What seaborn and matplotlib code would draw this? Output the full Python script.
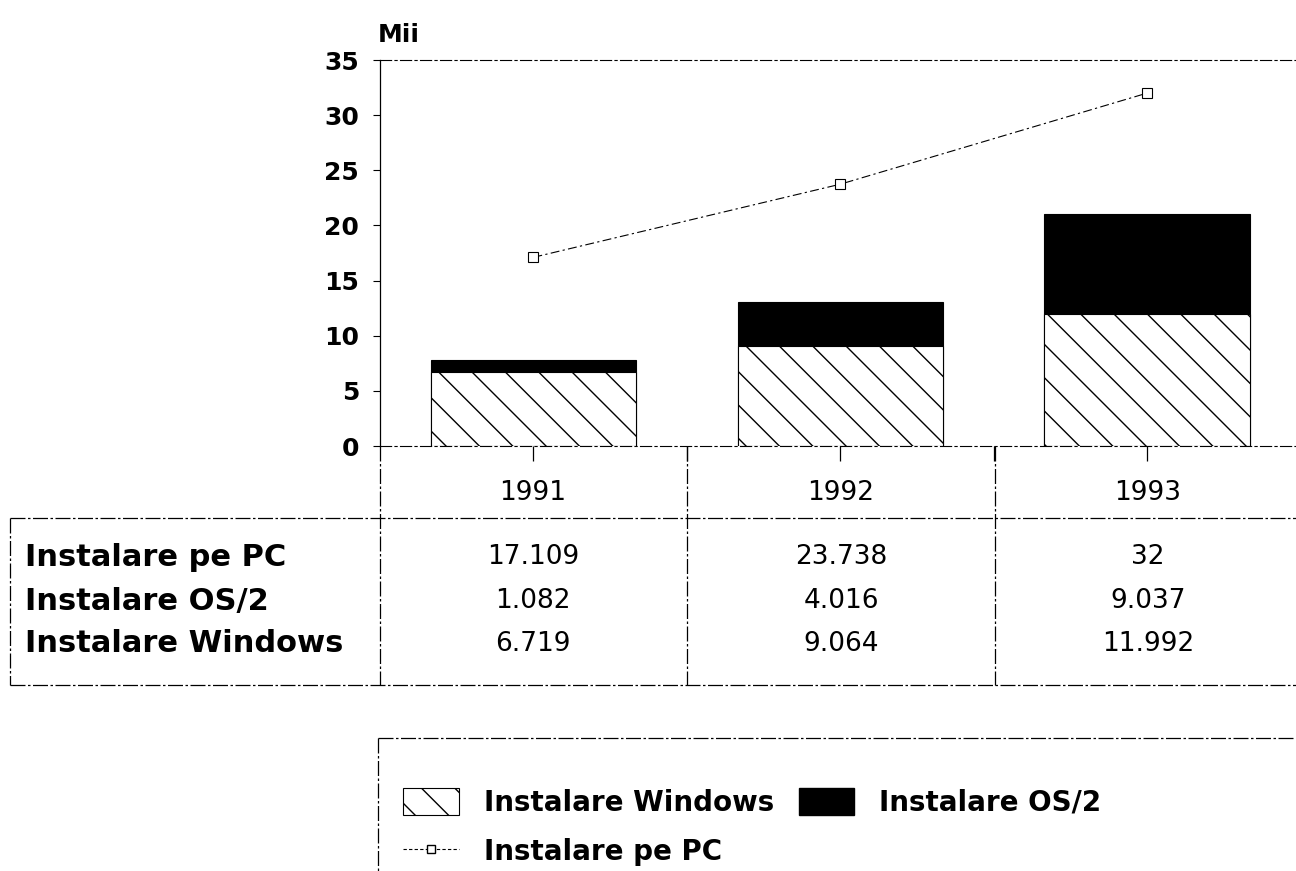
import matplotlib
matplotlib.use("Agg")
import matplotlib.pyplot as plt
from matplotlib.lines import Line2D
from matplotlib.patches import Patch
import numpy as np
import pandas as pd
import seaborn as sns

years = ["1991", "1992", "1993"]
pc = [17.109, 23.738, 32]
os2 = [1.082, 4.016, 9.037]
windows = [6.719, 9.064, 11.992]
pc_labels = ["17.109", "23.738", "32"]
os2_labels = ["1.082", "4.016", "9.037"]
win_labels = ["6.719", "9.064", "11.992"]
row_names = ["Instalare pe PC", "Instalare OS/2", "Instalare Windows"]

df = pd.DataFrame({"year": years, "pc": pc, "os2": os2, "windows": windows})
df["total"] = df["os2"] + df["windows"]

sns.set_theme(style="white")
plt.rcParams["font.family"] = ["DejaVu Sans"]
plt.rcParams["hatch.linewidth"] = 1.0
plt.rcParams["text.color"] = "black"
plt.rcParams["xtick.color"] = "black"
plt.rcParams["ytick.color"] = "black"

W, H = 1296, 871
fig = plt.figure(figsize=(12.96, 8.71), dpi=100)

# axes: x 380..1296 px, y 0 at 446 px, 35 at 60 px
ax = fig.add_axes([380 / W, 1 - 446 / H, (W - 380) / W, (446 - 60) / H])

# stacked bars: total in black, windows hatched on top of it
sns.barplot(data=df, x="year", y="total", color="black", width=0.67,
            edgecolor="black", linewidth=0.8, saturation=1, ax=ax)
sns.barplot(data=df, x="year", y="windows", color="white", width=0.67,
            edgecolor="black", linewidth=0.8, saturation=1, hatch="\\", ax=ax)
for p in ax.patches:
    p.set_edgecolor("black")

sns.lineplot(x=[0, 1, 2], y=pc, ax=ax, color="black", linewidth=0.8,
             linestyle=(0, (8, 3, 2, 3)), marker="s", markersize=7,
             markerfacecolor="white", markeredgecolor="black", markeredgewidth=0.8)

ax.set_xlim(-0.5, 2.485)
ax.set_ylim(0, 35)
ax.set_yticks(np.arange(0, 36, 5))
ax.set_yticklabels([str(v) for v in range(0, 36, 5)], fontsize=18, fontweight="bold",
                   color="black")
ax.set_xticks([0, 1, 2])
ax.set_xticklabels([])
ax.set_xticks([0.5, 1.5], minor=True)
ax.tick_params(axis="x", which="both", direction="out", length=11, width=0.9,
               color="black", bottom=True)
ax.tick_params(axis="y", direction="out", length=5, width=0.8, color="black",
               left=True, pad=10)
ax.set_xlabel("")
ax.set_ylabel("")
for s in ["top", "bottom"]:
    ax.spines[s].set_linestyle((0, (10, 3, 2, 3)))
    ax.spines[s].set_linewidth(0.8)
    ax.spines[s].set_color("black")
ax.spines["left"].set_linewidth(0.9)
ax.spines["left"].set_color("black")
ax.spines["right"].set_visible(False)

fig.text(378 / W, 1 - 35 / H, "Mii", fontsize=18, fontweight="bold", va="center", ha="left")


def hline(y, x0, x1):
    fig.add_artist(Line2D([x0 / W, x1 / W], [1 - y / H, 1 - y / H], color="black",
                          linewidth=0.9, linestyle=(0, (12, 2, 2, 2))))


def vline(x, y0, y1):
    fig.add_artist(Line2D([x / W, x / W], [1 - y0 / H, 1 - y1 / H], color="black",
                          linewidth=0.9, linestyle=(0, (12, 2, 2, 2))))


# data table under the chart
hline(518, 10, W)
hline(685, 10, W)
vline(10, 518, 685)
vline(380, 446, 685)
vline(687, 446, 685)
vline(995, 446, 685)

centers = [533, 841, 1148]
for cx, yr in zip(centers, years):
    fig.text(cx / W, 1 - 493 / H, yr, fontsize=19, ha="center", va="center")
rows = [pc_labels, os2_labels, win_labels]
row_y = [557, 601, 644]
for name, vals, ry in zip(row_names, rows, row_y):
    fig.text(25 / W, 1 - ry / H, name, fontsize=22, fontweight="bold",
             ha="left", va="center")
    for cx, v in zip(centers, vals):
        fig.text(cx / W, 1 - ry / H, v, fontsize=19, ha="center", va="center")

# legend box
hline(738, 378, W)
vline(378, 738, H)
h_win = Patch(facecolor="white", edgecolor="black", hatch="\\", linewidth=0.8)
h_os2 = Patch(facecolor="black", edgecolor="black")
h_pc = Line2D([], [], color="black", linewidth=0.8, linestyle=(0, (3, 2)),
              marker="s", markersize=6, markerfacecolor="white", markeredgecolor="black")
fig.legend([h_win, h_pc, h_os2],
           ["Instalare Windows", "Instalare pe PC", "Instalare OS/2"],
           ncol=2, frameon=False, loc="upper left",
           prop={"size": 20, "weight": "bold"},
           bbox_to_anchor=(403 / W, 1 - 788 / H), handlelength=2.0, handleheight=1.1,
           handletextpad=0.9, columnspacing=0.9, labelspacing=0.75, borderaxespad=0,
           borderpad=0)

fig.savefig("out.png", dpi=100)
